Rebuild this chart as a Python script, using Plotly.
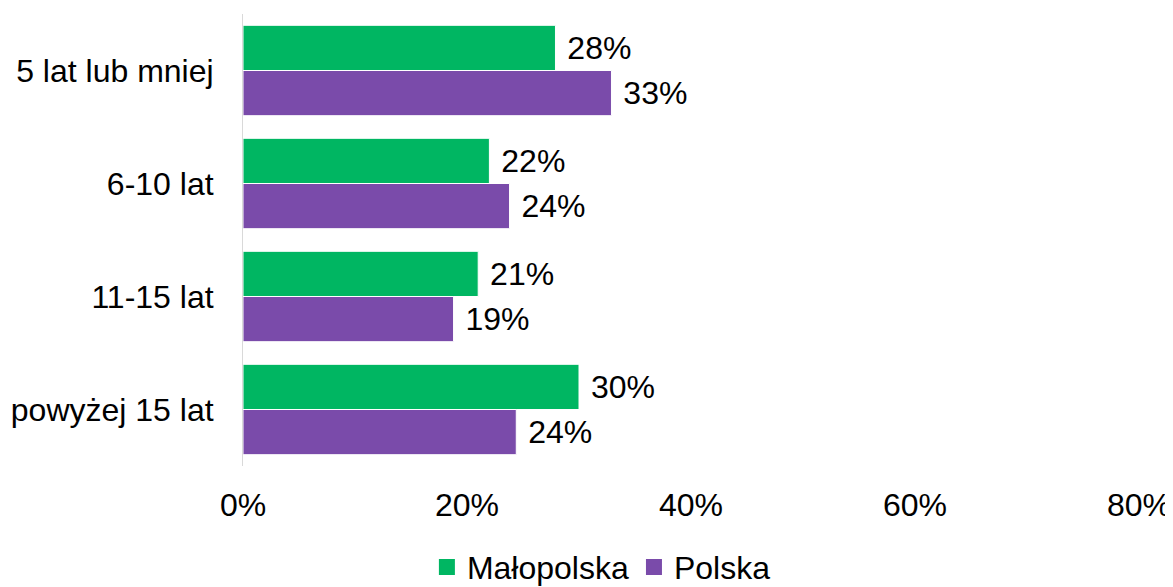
import plotly.graph_objects as go

categories = ["5 lat lub mniej", "6-10 lat", "11-15 lat", "powyżej 15 lat"]
malopolska = [27.9, 22.0, 21.0, 30.0]
polska = [32.9, 23.8, 18.8, 24.4]
series_names = ["Małopolska", "Polska"]
colors = ["#00B662", "#7A4BAA"]
x_ticks = [0, 20, 40, 60, 80]
x_tick_labels = ["0%", "20%", "40%", "60%", "80%"]

FONT = "Liberation Sans, Arial, sans-serif"
FS = 32

fig = go.Figure()
for name, vals, col in zip(series_names, [malopolska, polska], colors):
    fig.add_trace(go.Bar(
        y=categories, x=vals, orientation="h", name=name,
        marker=dict(color=col, line=dict(color="white", width=1)),
        text=vals, texttemplate="\u00a0%{x:.0f}%", textposition="outside",
        textfont=dict(family=FONT, size=FS, color="black"),
        constraintext="none", cliponaxis=False, showlegend=False,
    ))
    fig.add_trace(go.Scatter(
        x=[None], y=[None], mode="markers", name=name,
        marker=dict(symbol="square", size=18, color=col),
    ))

fig.update_layout(
    width=1165, height=579,
    margin=dict(l=235, r=34, t=6, b=121, autoexpand=False),
    plot_bgcolor="white", paper_bgcolor="white",
    barmode="group", bargap=0.2, bargroupgap=0,
    font=dict(family=FONT, size=FS, color="black"),
    legend=dict(orientation="h", x=0.40, xanchor="center", y=-0.163, yanchor="top",
                font=dict(family=FONT, size=FS, color="black"),
                itemwidth=30, tracegroupgap=0),
    xaxis=dict(range=[0, 80], tickvals=x_ticks, ticktext=x_tick_labels,
               showgrid=False, zeroline=False, showline=False, automargin=False,
               ticks="outside", ticklen=11, tickcolor="rgba(0,0,0,0)",
               tickfont=dict(family=FONT, size=FS, color="black")),
    yaxis=dict(autorange="reversed", showgrid=False, zeroline=False, automargin=False,
               showline=True, linecolor="#D9D9D9", linewidth=1,
               ticks="outside", ticklen=22, tickcolor="rgba(0,0,0,0)",
               tickfont=dict(family=FONT, size=FS, color="black")),
)

fig.write_html("out.html")
